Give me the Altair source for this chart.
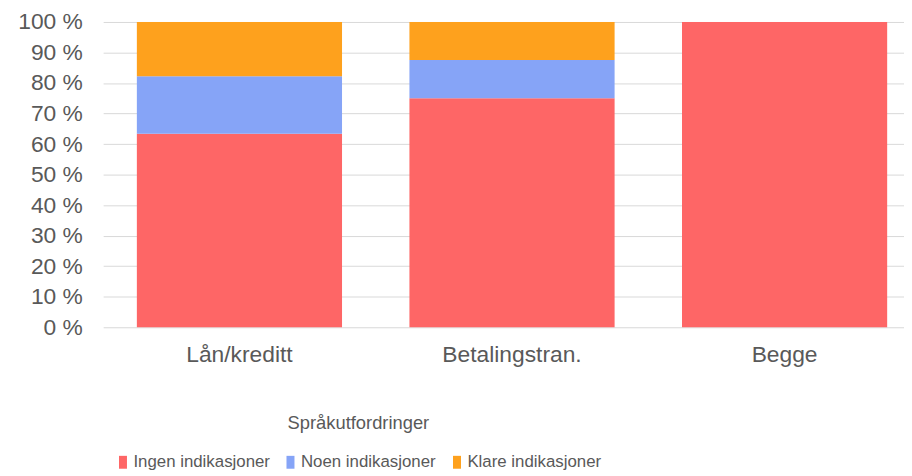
import altair as alt
import pandas as pd

categories = ["Lån/kreditt", "Betalingstran.", "Begge"]
series = ["Ingen indikasjoner", "Noen indikasjoner", "Klare indikasjoner"]
ingen = [63.4, 75.0, 100.0]
noen = [18.8, 12.5, 0.0]
klare = [17.8, 12.5, 0.0]
colors = ["#FE6666", "#86A4F7", "#FEA11D"]
y_ticks = list(range(0, 101, 10))

rows = []
for i, c in enumerate(categories):
    for j, vals in enumerate([ingen, noen, klare]):
        rows.append({"kategori": c, "serie": series[j], "verdi": vals[i], "rekke": j})
df = pd.DataFrame(rows)

font = "Liberation Sans, Arial, sans-serif"
txt = "#595959"

chart = alt.Chart(df).mark_bar().encode(
    x=alt.X(
        "kategori:N",
        sort=categories,
        scale=alt.Scale(paddingInner=0.2473, paddingOuter=0.0927, align=0.667),
        axis=alt.Axis(
            title=None, labelAngle=0, labelFont=font, labelFontSize=23,
            labelColor=txt, ticks=False, tickSize=0, labelPadding=17,
            domain=False, grid=False,
        ),
    ),
    y=alt.Y(
        "verdi:Q",
        stack="zero",
        scale=alt.Scale(domain=[0, 100], nice=False),
        axis=alt.Axis(
            title=None, values=y_ticks, labelExpr="datum.value + ' %'",
            labelFont=font, labelFontSize=23, labelColor=txt,
            ticks=False, tickSize=0, labelPadding=21, domain=False,
            grid=True, gridColor="#D9D9D9", gridWidth=1,
        ),
    ),
    color=alt.Color(
        "serie:N",
        sort=series,
        scale=alt.Scale(domain=series, range=colors),
        legend=alt.Legend(
            title="Språkutfordringer", orient="none", legendX=11.5, legendY=396,
            direction="horizontal", titleAnchor="middle", titleOrient="top",
            titleFont=font, titleFontSize=18.5, titleFontWeight="normal",
            titleColor=txt, titlePadding=21, labelFont=font,
            labelFontSize=17, labelColor=txt,
            symbolType="M-0.62,-1H0.62V1H-0.62Z", symbolSize=169,
            symbolStrokeWidth=0, symbolOpacity=1, labelOffset=2,
            columnPadding=12, padding=0,
        ),
    ),
    order=alt.Order("rekke:Q"),
).properties(
    width=808,
    height=308,
    autosize=alt.AutoSizeParams(type="none"),
    padding={"left": 96, "right": 0, "top": 12, "bottom": 148},
).configure_view(stroke=None)

chart.save("out.html", embed_options={"renderer": "svg", "actions": False})
